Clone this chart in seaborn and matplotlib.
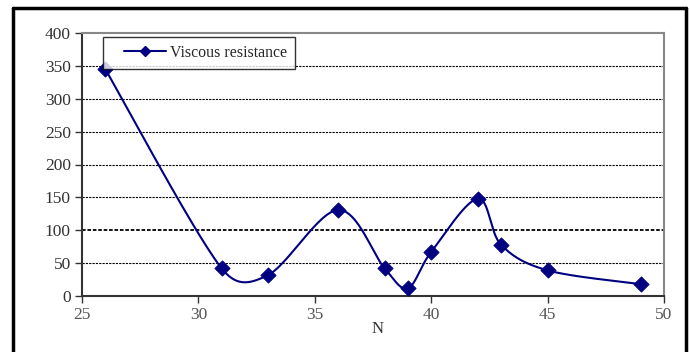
import numpy as np
import pandas as pd
import matplotlib
matplotlib.use("Agg")
import matplotlib.pyplot as plt
from matplotlib.lines import Line2D
from matplotlib.legend_handler import HandlerLine2D
import seaborn as sns

# Data
N = [26, 31, 33, 36, 38, 39, 40, 42, 43, 45, 49]
viscous = [345, 42, 32, 131, 42, 12, 67, 148, 78, 39, 18]
series_name = "Viscous resistance"
x_ticks = [25, 30, 35, 40, 45, 50]
y_ticks = [0, 50, 100, 150, 200, 250, 300, 350, 400]

sns.set_theme(style="white")
plt.rcParams['font.family'] = ['Liberation Serif', 'DejaVu Serif']

NAVY = "#000080"

# axes pixel geometry
AX_L, AX_R, AX_T, AX_B = 82, 664, 33, 296
SX = (AX_R - AX_L) / 25.0
SY = (AX_B - AX_T) / 400.0


def smooth_curve(xs, ys, cap=0.5, n=50):
    xs = np.asarray(xs, float) * SX
    ys = np.asarray(ys, float) * SY
    P = np.column_stack([xs, ys])
    P = np.vstack([P[0], P, P[-1]])
    out = []
    for i in range(1, len(P) - 2):
        p0, p1, p2, p3 = P[i - 1], P[i], P[i + 1], P[i + 2]
        d12 = np.linalg.norm(p2 - p1)
        v1 = (p2 - p0) / 6.0
        v2 = (p3 - p1) / 6.0
        for v in (v1, v2):
            L = np.linalg.norm(v)
            if L > cap * d12 and L > 0:
                v *= cap * d12 / L
        c1 = p1 + v1
        c2 = p2 - v2
        t = np.linspace(0, 1, n)[:, None]
        b = (1 - t) ** 3 * p1 + 3 * (1 - t) ** 2 * t * c1 + 3 * (1 - t) * t ** 2 * c2 + t ** 3 * p2
        out.append(b)
    out = np.vstack(out)
    return out[:, 0] / SX, out[:, 1] / SY


sx, sy = smooth_curve(N, viscous)
smooth_df = pd.DataFrame({"N": sx, "val": sy})
pts_df = pd.DataFrame({"N": N, "val": viscous})

fig = plt.figure(figsize=(6.9, 3.52), dpi=100)
fig.patch.set_facecolor("white")
ax = fig.add_axes([AX_L / 690, 1 - AX_B / 352, (AX_R - AX_L) / 690, (AX_B - AX_T) / 352])

# gridlines
for yv in y_ticks[1:-1]:
    ax.axhline(yv, color="black", lw=1.3 if yv == 100 else 0.8,
               ls=(0, (2, 1)), zorder=1)

sns.lineplot(data=smooth_df, x="N", y="val", sort=False, estimator=None,
             color=NAVY, lw=1.5, ax=ax, zorder=3)
sns.scatterplot(data=pts_df, x="N", y="val", marker="D", s=60, color=NAVY,
                edgecolor=NAVY, ax=ax, zorder=4)

ax.set_xlim(25, 50)
ax.set_ylim(0, 400)
ax.set_xticks(x_ticks)
ax.set_yticks(y_ticks)
ax.set_xlabel("N", fontsize=12, color="#333333")
ax.xaxis.set_label_coords((378 - AX_L) / (AX_R - AX_L), -(321 - AX_B) / (AX_B - AX_T))
ax.set_ylabel("")
ax.tick_params(axis="both", which="both", direction="out", length=5, width=1,
               color="#333333", labelsize=12.5, labelcolor="#333333",
               bottom=True, left=True, pad=3)
ax.tick_params(axis="x", labelcolor="#555555")
for side in ["top", "right"]:
    ax.spines[side].set_color("#888888")
    ax.spines[side].set_linewidth(1.5)
for side in ["left", "bottom"]:
    ax.spines[side].set_color("#333333")
    ax.spines[side].set_linewidth(1.5)

handle = Line2D([], [], color=NAVY, lw=1.5, marker="D", markersize=5)
leg = ax.legend([handle], [series_name], loc="upper left",
                bbox_to_anchor=((103 - AX_L) / (AX_R - AX_L), 1 - (37 - AX_T) / (AX_B - AX_T)),
                frameon=True, fancybox=False, fontsize=11.4, handlelength=3.45,
                borderpad=0.5, handletextpad=0.25, borderaxespad=0,
                handler_map={Line2D: HandlerLine2D(numpoints=1, xpad=0.85)})
leg.get_frame().set_edgecolor("black")
leg.get_frame().set_linewidth(1.0)

# outer frame
fig.add_artist(Line2D([13 / 690, 13 / 690], [0, 1 - 8 / 352], transform=fig.transFigure, color="black", lw=2.5))
fig.add_artist(Line2D([13 / 690, 686 / 690], [1 - 8 / 352, 1 - 8 / 352], transform=fig.transFigure, color="black", lw=2.5))
fig.add_artist(Line2D([686 / 690, 686 / 690], [0, 1 - 8 / 352], transform=fig.transFigure, color="black", lw=2.5))

fig.savefig("out.png", dpi=100)
